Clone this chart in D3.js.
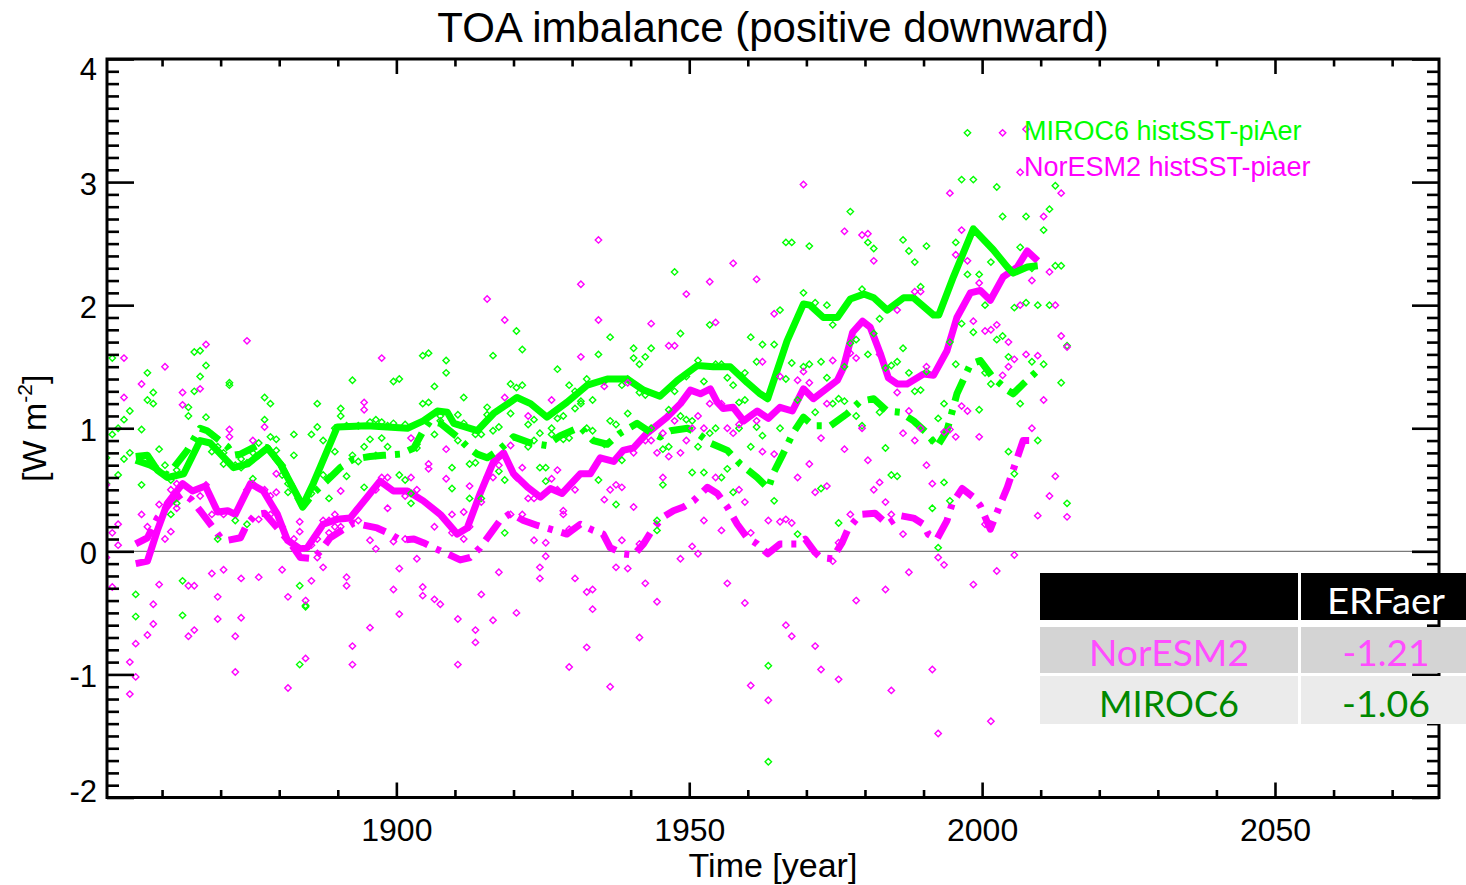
<!DOCTYPE html>
<html>
<head>
<meta charset="utf-8">
<script src="https://cdn.jsdelivr.net/npm/d3@7"></script>
<style>
  body { margin: 0; background: #ffffff; }
  svg { display: block; }
</style>
</head>
<body>
<svg id="chart" width="1466" height="885"></svg>
<script>
// ---------------- data ----------------
const firstYear = 1850;   // annual values start here, plotted at mid-year

// Annual TOA imbalance, W m-2 (1850 .. 2014)
const mirocPiAer = [
  0.76, 1.57, 1.00, 1.07, 1.14, -0.35, 0.99, 1.45, 1.29, 0.83,
  0.70, 0.58, 0.66, -0.24, 1.17, 1.62, 1.63, 1.51, 0.95, 0.85,
  0.80, 1.37, 0.70, 0.75, 0.72, 0.80, 0.88, 1.25, 1.20, 0.91,
  0.70, 0.55, 0.95, -0.28, -0.44, 0.95, 1.20, 0.90, 0.60, 1.00,
  1.16, 1.02, 1.39, 1.02, 0.85, 1.05, 1.07, 1.05, 1.02, 1.38,
  1.40, 1.03, 0.47, 0.87, 1.59, 1.61, 1.34, 1.10, 1.55, 0.68,
  1.11, 1.25, 0.71, 0.95, 0.95, 1.17, 1.59, 1.01, 0.58, 1.36,
  1.79, 1.64, 1.03, 1.07, 0.96, 0.68, 1.00, 1.48, 1.10, 1.35,
  1.30, 1.22, 1.40, 1.23, 1.60, 1.38, 1.74, 1.03, 1.35, 1.40,
  1.65, 1.52, 1.58, 1.65, 0.25, 0.83, 1.15, 2.27, 1.77, 1.42,
  1.06, 1.55, 1.38, 1.84, 1.52, 1.52, 1.41, 1.35, 1.21, 1.45,
  1.74, 1.54, 1.68, -0.93, 1.68, 1.96, 2.51, 2.51, 1.23, 2.10,
  2.48, 2.02, 1.54, 2.00, 1.84, 1.24, 1.50, 2.76, 1.72, 2.13,
  2.51, 2.46, 1.89, 1.49, 1.51, 1.54, 2.53, 2.44, 2.35, 2.15,
  2.48, 0.90, 1.08, 1.20, 1.70, 2.51, 3.02, 3.40, 3.02, 2.25,
  2.00, 2.35, 2.96, 2.72, 1.58, 1.98, 2.47, 2.72, 2.30, 2.00,
  2.61, 2.78, 2.97, 2.32, 1.67
];
const mirocHist = [
  0.55, 0.95, 0.62, 0.75, 0.80, -0.53, 0.54, 1.23, 1.20, 0.65,
  0.62, 0.30, 0.39, -0.52, 1.10, 1.30, 1.42, 1.09, 0.81, 0.10,
  0.71, 1.35, 0.25, 0.68, 0.22, 0.59, 0.78, 1.07, 0.93, 0.82,
  0.62, 0.48, 0.78, -0.92, -0.45, 0.47, 1.01, 0.62, 0.43, 0.81,
  1.10, 0.61, 0.78, 0.73, 0.52, 0.91, 0.78, 0.92, 0.85, 1.04,
  0.62, 0.58, 0.39, 0.84, 1.20, 1.21, 0.95, 1.06, 1.45, 0.51,
  0.90, 1.04, 0.43, 0.72, 0.43, 1.11, 0.98, 0.65, 0.15, 1.12,
  1.33, 1.35, 0.85, 0.90, 0.68, 0.57, 0.95, 1.08, 0.91, 0.92,
  1.16, 1.20, 1.00, 0.98, 0.58, 0.87, 1.06, 0.38, 0.74, 1.12,
  1.57, 1.29, 1.27, 1.00, 0.17, 0.54, 0.85, 1.30, 1.10, 1.07,
  0.64, 0.85, 0.64, 0.96, 1.00, 0.60, 0.67, 0.48, 1.00, 1.23,
  0.85, 1.01, 0.94, -1.71, 0.41, 1.00, 1.40, 1.53, 0.14, 1.50,
  1.52, 1.13, 0.51, 1.41, 1.20, 0.23, 1.22, 1.69, 1.10, 1.02,
  1.60, 1.77, 1.13, 0.84, 0.62, 0.61, 1.65, 1.45, 1.30, 1.31,
  1.46, 0.35, 0.03, 0.56, 0.41, 1.52, 1.85, 2.25, 1.78, 1.15,
  1.45, 1.36, 1.72, 1.75, 0.81, 0.63, 1.20, 2.02, 1.54, 0.90,
  1.52, 2.00, 2.32, 1.37, 0.39
];
const noresmPiAer = [
  0.54, 0.15, 0.22, 1.57, -0.90, -0.75, 1.36, 0.20, -0.43, 0.38,
  1.50, 0.50, 0.55, 1.29, -0.28, -0.28, 1.32, 1.68, 0.30, -0.37,
  0.30, 0.99, -0.69, -0.22, 1.71, 0.90, 0.26, 1.01, 0.45, 0.63,
  0.20, -0.37, 0.10, 0.24, -0.40, 0.05, 0.10, 0.25, 0.25, 0.30,
  0.49, -0.21, -0.77, 0.35, 1.21, 0.09, 0.50, 1.57, 0.60, 0.08,
  -0.14, 0.45, 0.92, 0.50, -0.29, 0.71, 0.20, 0.30, 0.83, 0.30,
  -0.55, 0.32, 0.53, -0.64, 0.40, 2.05, 0.60, 0.70, 1.88, 0.86,
  0.60, 0.68, 1.10, 0.43, -0.13, 0.07, 1.23, 0.66, 0.33, 0.18,
  0.50, 2.17, -0.33, -0.31, 2.53, 1.34, 0.50, 0.54, 0.52, 1.37,
  0.80, 0.06, 0.90, 1.85, 0.80, 0.96, 1.67, 1.67, 0.80, 2.09,
  1.00, 1.10, 1.00, 2.19, 1.86, 1.20, 1.00, 2.34, 1.03, 0.40,
  0.15, 2.21, 1.54, 0.25, 1.93, 1.42, 0.26, 0.23, 1.39, 2.98,
  1.37, 0.48, 0.92, 1.20, 1.55, 0.07, 2.60, 1.61, 1.57, 2.57,
  2.58, 2.36, 1.60, 0.40, 0.30, 1.96, 0.96, 1.14, 2.11, 2.11,
  1.50, 0.55, -0.05, 0.97, 2.91, 2.41, 2.61, 2.36, 1.87, 2.18,
  1.79, 1.80, 1.84, 3.40, 1.70, 1.56, 3.08, 3.43, 2.20, 1.59,
  2.72, 2.27, 2.00, 2.91, 1.66
];
const noresmHist = [
  -0.05, -0.29, 0.05, 1.25, -1.16, -1.02, 0.30, -0.68, -0.59, -0.27,
  0.10, 0.16, 0.35, 1.19, -0.69, -0.64, 0.45, 0.54, -0.18, -0.55,
  -0.15, 0.93, -0.98, -0.54, 0.50, 0.55, -0.21, 0.50, 0.30, 0.48,
  -0.15, -1.11, 0.05, 0.16, -0.87, -0.24, -0.05, -0.13, 0.15, 0.20,
  0.20, -0.28, -0.92, 0.25, 1.15, -0.62, 0.02, 0.60, 0.35, -0.31,
  -0.51, 0.10, 0.60, -0.06, -0.36, 0.67, -0.39, -0.43, 0.59, 0.15,
  -0.92, 0.10, 0.20, -0.74, -0.35, 0.60, -0.56, -0.17, 1.25, 0.30,
  -0.50, 0.30, 0.43, 0.09, -0.22, -0.04, 0.59, 0.50, 0.30, -0.94,
  -0.22, 1.58, -0.78, -0.47, 1.88, 0.42, -1.10, -0.13, 0.09, -0.14,
  0.36, -0.70, -0.26, 0.90, -0.41, 0.60, 0.77, 1.06, -0.06, 0.90,
  0.04, -0.02, 0.25, 1.20, 0.60, 0.17, -0.26, 0.96, 0.50, -0.42,
  -1.09, 1.06, 0.81, -1.21, 0.79, 0.24, -0.60, -0.69, 0.60, 1.46,
  0.71, -0.77, -0.96, 0.53, -0.08, -1.04, 0.83, 0.30, -0.40, 1.00,
  0.74, 0.50, 0.56, -0.31, -1.13, 1.29, 0.14, -0.17, 0.90, 1.00,
  0.70, -0.96, -1.48, -0.11, 0.99, 0.93, 1.18, 1.14, -0.27, 0.93,
  0.22, -1.38, -0.16, 1.43, 1.50, -0.03, 2.00, 1.60, 1.00, 0.29,
  1.23, 0.45, 0.61, 1.75, 0.28
];

// Smoothed curves (running means), year / value pairs
const mirocPiAerSmoothYears = [
  1855.5, 1857.5, 1859.2, 1860.9, 1863.7, 1866.5, 1868.2, 1872.2, 1874.6, 1878,
  1880.2, 1884.0, 1885.8, 1889.9, 1895, 1901.9, 1904.6, 1907, 1908.7, 1909.8,
  1913.8, 1916.6, 1920.6, 1922.9, 1925.7, 1929.1, 1932.6, 1936, 1939.4, 1942.2,
  1945, 1948, 1951.4, 1954.1, 1957, 1959.9, 1962.1, 1963.4, 1966.7, 1969.5,
  1970.6, 1972.9, 1975.3, 1977.5, 1979.8, 1981.5, 1983.8, 1986.6, 1988.3, 1991.7,
  1992.6, 1995.1, 1998.5, 2001.9, 2004.3, 2005.3, 2007.7, 2009.5
];
const mirocPiAerSmooth = [
  0.77, 0.78, 0.66, 0.60, 0.63, 0.90, 0.88, 0.68, 0.71, 0.84,
  0.71, 0.37, 0.55, 1.01, 1.02, 1.00, 1.06, 1.14, 1.13, 1.04,
  0.98, 1.12, 1.25, 1.20, 1.09, 1.21, 1.35, 1.40, 1.40, 1.31,
  1.26, 1.39, 1.51, 1.50, 1.50, 1.37, 1.28, 1.24, 1.71, 2.01,
  2.00, 1.90, 1.90, 2.05, 2.09, 2.06, 1.96, 2.06, 2.06, 1.92,
  1.92, 2.23, 2.62, 2.45, 2.31, 2.26, 2.31, 2.32
];

const mirocHistSmoothYears = [
  1855.5, 1858, 1861, 1864.3, 1866.5, 1867.7, 1871.2, 1872.2, 1873.4, 1876.3,
  1878, 1880.2, 1884.0, 1885.8, 1888.7, 1890.4, 1892.7, 1895.5, 1897.8, 1900.7,
  1903, 1904.6, 1905.8, 1907.5, 1910.4, 1912.1, 1913.8, 1915.5, 1917.7, 1920,
  1922.9, 1925.7, 1928, 1931.4, 1933.6, 1936, 1938.2, 1941.1, 1943.3, 1945,
  1946.8, 1949.7, 1951.4, 1953.6, 1956.5, 1958.7, 1961.6, 1963.5, 1964.3, 1966,
  1967.7, 1969.5, 1971.2, 1974.1, 1977, 1979.2, 1981.5, 1983.8, 1986, 1988.3,
  1990.6, 1992.3, 1994, 1995.7, 1998, 1999.7, 2001.9, 2004.3, 2005.3, 2007,
  2009.5
];
const mirocHistSmooth = [
  0.74, 0.70, 0.62, 0.82, 1.00, 0.98, 0.85, 0.78, 0.79, 0.86,
  0.84, 0.71, 0.36, 0.47, 0.60, 0.68, 0.75, 0.77, 0.78, 0.79,
  0.84, 0.98, 1.06, 1.04, 0.93, 0.85, 0.79, 0.76, 0.83, 0.93,
  0.88, 0.86, 0.94, 1.01, 0.90, 0.87, 0.96, 1.04, 0.97, 0.93,
  0.98, 1.00, 0.96, 0.88, 0.82, 0.71, 0.60, 0.51, 0.63, 0.79,
  0.96, 1.09, 1.02, 1.02, 1.12, 1.22, 1.24, 1.14, 1.13, 1.06,
  0.96, 0.85, 0.98, 1.28, 1.52, 1.55, 1.41, 1.31, 1.28, 1.36,
  1.47
];

const noresmPiAerSmoothYears = [
  1855.5, 1857.5, 1859.2, 1860.9, 1863.5, 1865.2, 1867.4, 1869.5, 1871.2, 1872.5,
  1875.1, 1877.3, 1879.7, 1881.4, 1883.6, 1884.8, 1887.5, 1889.9, 1892.1, 1895,
  1897.2, 1899.5, 1901.9, 1904.6, 1907.5, 1910.4, 1912.1, 1914.3, 1916.6, 1918.3,
  1920, 1922.4, 1924.6, 1926.3, 1928.3, 1931.4, 1933.1, 1934.8, 1937.1, 1938.7,
  1940.5, 1942.8, 1946.2, 1948.5, 1950.2, 1951.9, 1953.6, 1954.8, 1955.8, 1957.5,
  1959.3, 1961.6, 1963.5, 1965.5, 1967.6, 1969.5, 1971.2, 1975.3, 1976.3, 1977.9,
  1979.6, 1980.9, 1982.6, 1984, 1985.5, 1987.2, 1990, 1991.7, 1994, 1995.7,
  1998, 1999.7, 2001.4, 2003.6, 2006, 2007.7, 2009.5
];
const noresmPiAerSmooth = [
  -0.10, -0.08, 0.17, 0.39, 0.55, 0.49, 0.53, 0.32, 0.33, 0.30,
  0.55, 0.49, 0.30, 0.09, 0.02, 0.03, 0.22, 0.26, 0.27, 0.44,
  0.57, 0.49, 0.49, 0.41, 0.30, 0.14, 0.19, 0.47, 0.73, 0.80,
  0.63, 0.52, 0.44, 0.51, 0.47, 0.63, 0.63, 0.76, 0.73, 0.82,
  0.84, 0.96, 1.09, 1.20, 1.31, 1.28, 1.32, 1.21, 1.16, 1.17,
  1.06, 1.14, 1.08, 1.17, 1.14, 1.32, 1.24, 1.39, 1.49, 1.78,
  1.87, 1.82, 1.61, 1.41, 1.36, 1.36, 1.44, 1.43, 1.63, 1.90,
  2.10, 2.12, 2.04, 2.23, 2.31, 2.44, 2.36
];

const noresmHistSmoothYears = [
  1855.5, 1857.5, 1859.2, 1861.5, 1863.5, 1865, 1866.5, 1870, 1871.2, 1873.4,
  1874.5, 1876, 1877.5, 1879.7, 1882, 1883.6, 1885.8, 1887, 1888.7, 1891,
  1892.7, 1896.7, 1899, 1900.7, 1903, 1904.6, 1906.3, 1908.7, 1910.9, 1912.6,
  1914.3, 1916, 1917.7, 1919.5, 1921.7, 1924.1, 1926.3, 1929.1, 1931.4, 1933.6,
  1935.3, 1936.5, 1938.7, 1940.5, 1942.2, 1943.9, 1945.6, 1947.3, 1949, 1950.7,
  1953.1, 1954.8, 1956.5, 1958.2, 1959.9, 1961.6, 1963.4, 1965.5, 1968.4, 1969.8,
  1971.5, 1972.4, 1974.4, 1976.1, 1977.1, 1979.2, 1981.7, 1983.8, 1986, 1988.3,
  1990, 1990.8, 1992.3, 1994, 1994.9, 1996.6, 1998.5, 1999.7, 2000.5, 2001.4,
  2003, 2004.3, 2005.3, 2007, 2009.5
];
const noresmHistSmooth = [
  0.06, 0.11, 0.27, 0.40, 0.47, 0.42, 0.33, 0.11, 0.09, 0.11,
  0.22, 0.30, 0.31, 0.19, 0.06, -0.05, -0.06, 0.00, 0.11, 0.18,
  0.23, 0.19, 0.14, 0.09, 0.10, 0.07, 0.03, -0.02, -0.07, -0.05,
  0.03, 0.14, 0.25, 0.31, 0.25, 0.21, 0.18, 0.14, 0.22, 0.17,
  0.14, 0.03, -0.02, -0.03, 0.06, 0.19, 0.28, 0.33, 0.36, 0.41,
  0.52, 0.47, 0.36, 0.22, 0.11, 0.06, -0.02, 0.06, 0.06, 0.10,
  -0.01, -0.05, -0.06, 0.07, 0.18, 0.30, 0.31, 0.22, 0.29, 0.27,
  0.22, 0.14, 0.10, 0.25, 0.39, 0.51, 0.44, 0.37, 0.28, 0.18,
  0.37, 0.52, 0.66, 0.90, 0.90
];

// Axis ranges and ticks
const xDomain = [1850.6, 2078];
const yDomain = [-2, 4];
const xMajorTicks = [1900, 1950, 2000, 2050];
const xMinorTicks = [1860, 1870, 1880, 1890, 1910, 1920, 1930, 1940, 1960, 1970,
                     1980, 1990, 2010, 2020, 2030, 2040, 2060, 2070];
const yMajorTicks = [-2, -1, 0, 1, 2, 3, 4];
const yMinorStep = 0.1;

// Legend and ERFaer table
const legendLabels = ["MIROC6 histSST-piAer", "NorESM2 histSST-piaer"];
const tableHeader = ["", "ERFaer"];
const tableModels = ["NorESM2", "MIROC6"];
const tableErf = ["-1.21", "-1.06"];

// ---------------- drawing ----------------
const GREEN = "#00ff00", MAGENTA = "#ff00ff";
const FONT = "'Liberation Sans', Arial, Helvetica, sans-serif";

const svg = d3.select("#chart");
const plot = { left: 107, right: 1439, top: 59, bottom: 797.5 };

const x = d3.scaleLinear().domain(xDomain).range([plot.left, plot.right]);
const y = d3.scaleLinear().domain(yDomain).range([plot.bottom, plot.top]);

svg.append("defs").append("clipPath").attr("id", "plot-clip")
  .append("rect")
  .attr("x", plot.left).attr("y", plot.top)
  .attr("width", plot.right - plot.left).attr("height", plot.bottom - plot.top);

// zero reference line
svg.append("line")
  .attr("x1", x(xDomain[0])).attr("x2", x(xDomain[1]))
  .attr("y1", y(0)).attr("y2", y(0))
  .attr("stroke", "#7a7a7a").attr("stroke-width", 1.4);

const dataLayer = svg.append("g").attr("clip-path", "url(#plot-clip)");

const lineGen = d3.line().x(d => x(d[0])).y(d => y(d[1]));
const DASHDOT = "23,9,5,9";
const curves = [
  { years: noresmPiAerSmoothYears, vals: noresmPiAerSmooth, color: MAGENTA, dash: null },
  { years: noresmHistSmoothYears, vals: noresmHistSmooth, color: MAGENTA, dash: DASHDOT },
  { years: mirocPiAerSmoothYears, vals: mirocPiAerSmooth, color: GREEN, dash: null },
  { years: mirocHistSmoothYears, vals: mirocHistSmooth, color: GREEN, dash: DASHDOT }
];
curves.forEach(c => {
  dataLayer.append("path")
    .datum(d3.zip(c.years, c.vals))
    .attr("d", lineGen)
    .attr("fill", "none")
    .attr("stroke", c.color)
    .attr("stroke-width", 7)
    .attr("stroke-linejoin", "round")
    .attr("stroke-dasharray", c.dash);
});

// annual values as open diamonds
const diamond = "M0,-3.2L3.2,0L0,3.2L-3.2,0Z";
const scatterSets = [
  { vals: mirocPiAer, color: GREEN },
  { vals: mirocHist, color: GREEN },
  { vals: noresmPiAer, color: MAGENTA },
  { vals: noresmHist, color: MAGENTA }
];
scatterSets.forEach(s => {
  dataLayer.append("g").selectAll("path")
    .data(s.vals.map((v, i) => [firstYear + i + 0.5, v]))
    .join("path")
    .attr("d", diamond)
    .attr("transform", d => `translate(${x(d[0])},${y(d[1])})`)
    .attr("fill", "none")
    .attr("stroke", s.color)
    .attr("stroke-width", 1.4);
});

// ---------- axes ----------
const axisLayer = svg.append("g");
function styleAxis(g) {
  g.select(".domain").remove();
  g.selectAll(".tick line").attr("stroke", "#000").attr("stroke-width", 2.6);
  g.selectAll("text").attr("font-family", FONT).attr("fill", "#000");
}

const yMinorTicks = d3.range(yDomain[0], yDomain[1] + 1e-9, yMinorStep)
  .filter(v => Math.abs(v - Math.round(v)) > 1e-6);

// bottom
axisLayer.append("g").attr("transform", `translate(0,${plot.bottom})`)
  .call(d3.axisBottom(x).tickValues(xMinorTicks).tickSize(-7.5).tickFormat(""))
  .call(styleAxis);
axisLayer.append("g").attr("transform", `translate(0,${plot.bottom})`)
  .call(d3.axisBottom(x).tickValues(xMajorTicks).tickSize(-15).tickPadding(21).tickFormat(d3.format("d")))
  .call(styleAxis)
  .call(g => g.selectAll("text").attr("font-size", 32));
// top
axisLayer.append("g").attr("transform", `translate(0,${plot.top})`)
  .call(d3.axisTop(x).tickValues(xMinorTicks).tickSize(-7.5).tickFormat(""))
  .call(styleAxis);
axisLayer.append("g").attr("transform", `translate(0,${plot.top})`)
  .call(d3.axisTop(x).tickValues(xMajorTicks).tickSize(-15).tickFormat(""))
  .call(styleAxis);
// left
axisLayer.append("g").attr("transform", `translate(${plot.left},0)`)
  .call(d3.axisLeft(y).tickValues(yMinorTicks).tickSize(-12).tickFormat(""))
  .call(styleAxis);
axisLayer.append("g").attr("transform", `translate(${plot.left},0)`)
  .call(d3.axisLeft(y).tickValues(yMajorTicks).tickSize(-27).tickPadding(10)
        .tickFormat(d => (d < 0 ? "-" : "") + Math.abs(d)))
  .call(styleAxis)
  .call(g => g.selectAll("text")
    .attr("font-size", 31)
    .attr("dy", d => d === yDomain[1] ? "0.66em" : d === yDomain[0] ? "0.12em" : "0.4em"));
// right
axisLayer.append("g").attr("transform", `translate(${plot.right},0)`)
  .call(d3.axisRight(y).tickValues(yMinorTicks).tickSize(-12).tickFormat(""))
  .call(styleAxis);
axisLayer.append("g").attr("transform", `translate(${plot.right},0)`)
  .call(d3.axisRight(y).tickValues(yMajorTicks).tickSize(-27).tickFormat(""))
  .call(styleAxis);

// frame
axisLayer.append("rect")
  .attr("x", plot.left).attr("y", plot.top)
  .attr("width", plot.right - plot.left).attr("height", plot.bottom - plot.top)
  .attr("fill", "none").attr("stroke", "#000").attr("stroke-width", 3);

// titles
const midX = (plot.left + plot.right) / 2;
svg.append("text")
  .attr("x", midX).attr("y", 42)
  .attr("text-anchor", "middle")
  .attr("font-family", FONT).attr("font-size", 42)
  .text("TOA imbalance (positive downward)");

svg.append("text")
  .attr("x", midX).attr("y", 877)
  .attr("text-anchor", "middle")
  .attr("font-family", FONT).attr("font-size", 34)
  .text("Time [year]");

const yTitle = svg.append("text")
  .attr("transform", `translate(46,${(plot.top + plot.bottom) / 2}) rotate(-90)`)
  .attr("text-anchor", "middle")
  .attr("font-family", FONT).attr("font-size", 34);
yTitle.append("tspan").text("[W m");
yTitle.append("tspan").attr("font-size", 21).attr("dy", -14).text("-2");
yTitle.append("tspan").attr("dy", 14).text("]");

// legend
const legendColors = [GREEN, MAGENTA];
svg.append("g").selectAll("text")
  .data(legendLabels)
  .join("text")
  .attr("x", 1024)
  .attr("y", (d, i) => 140 + i * 36)
  .attr("font-family", FONT).attr("font-size", 27)
  .attr("fill", (d, i) => legendColors[i])
  .text(d => d);

// ERFaer table
const TFONT = "Lato, 'Open Sans', sans-serif";
const table = svg.append("g");
const colX = [1040, 1301], colW = [258, 165];
const rowY = [573, 627, 676], rowH = [47, 46, 48];
const rowFill = ["#000000", "#d4d4d4", "#ebebeb"];
rowY.forEach((ry, r) => {
  colX.forEach((cx, c) => {
    table.append("rect")
      .attr("x", cx).attr("y", ry)
      .attr("width", colW[c]).attr("height", rowH[r])
      .attr("fill", rowFill[r]);
  });
});
table.append("text")
  .attr("x", 1386).attr("y", 614)
  .attr("text-anchor", "middle")
  .attr("font-family", TFONT).attr("font-size", 36)
  .attr("fill", "#ffffff")
  .attr("textLength", 118).attr("lengthAdjust", "spacingAndGlyphs")
  .text(tableHeader[1]);
const modelColors = ["#ff4dff", "#008800"];
const modelWidths = [160, 140], erfWidths = [87, 88];
const baselines = [666, 717];
tableModels.forEach((m, i) => {
  table.append("text")
    .attr("x", 1169).attr("y", baselines[i])
    .attr("text-anchor", "middle")
    .attr("font-family", TFONT).attr("font-size", 36)
    .attr("fill", modelColors[i])
    .attr("textLength", modelWidths[i]).attr("lengthAdjust", "spacingAndGlyphs")
    .text(m);
  table.append("text")
    .attr("x", 1386).attr("y", baselines[i])
    .attr("text-anchor", "middle")
    .attr("font-family", TFONT).attr("font-size", 36)
    .attr("fill", modelColors[i])
    .attr("textLength", erfWidths[i]).attr("lengthAdjust", "spacingAndGlyphs")
    .text(tableErf[i]);
});
</script>
</body>
</html>
